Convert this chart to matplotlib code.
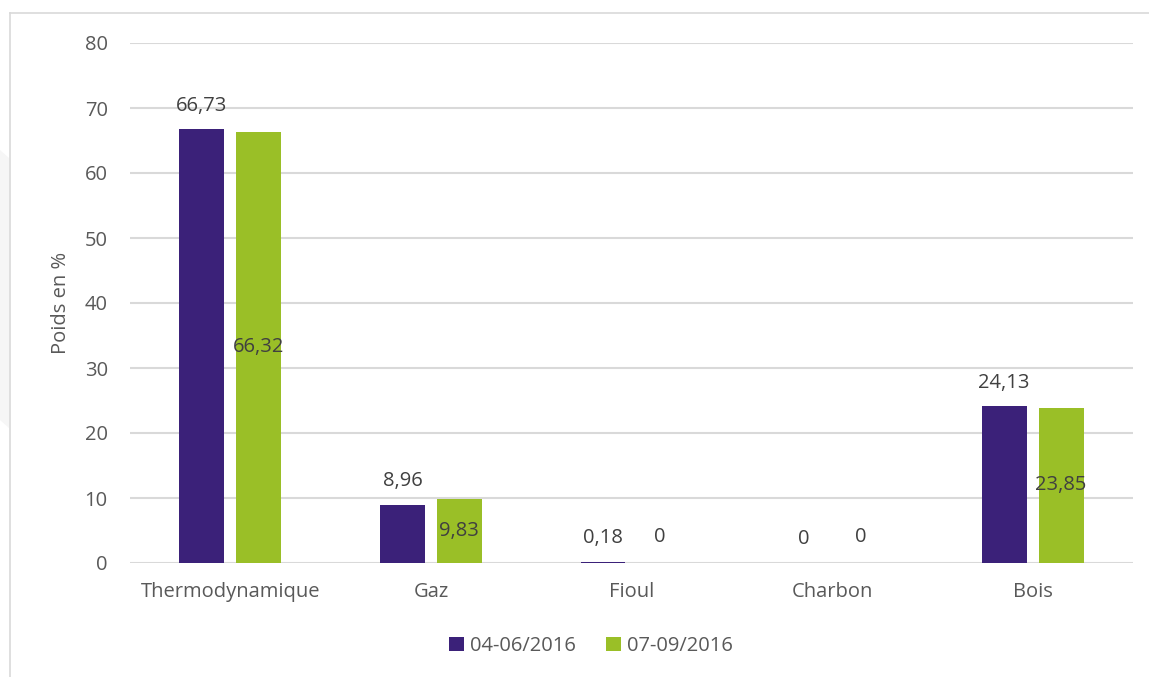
import numpy as np
import matplotlib
matplotlib.use("Agg")
import matplotlib.pyplot as plt
from matplotlib.lines import Line2D
from matplotlib.patches import Polygon

# Data
categories = ["Thermodynamique", "Gaz", "Fioul", "Charbon", "Bois"]
series_names = ["04-06/2016", "07-09/2016"]
values_q2 = [66.73, 8.96, 0.18, 0, 24.13]
values_q3 = [66.32, 9.83, 0, 0, 23.85]

purple = "#3B2179"
green = "#9ABF27"
text_gray = "#595959"
grid_gray = "#D9D9D9"
fs = 14.5

plt.rcParams["font.family"] = ["Open Sans", "DejaVu Sans"]

W, H = 1149, 677
fig = plt.figure(figsize=(W / 100, H / 100), dpi=100)
ax = fig.add_axes([130 / W, 1 - 563 / H, (1133 - 130) / W, (563 - 43) / H])

x = np.arange(len(categories))
bw = 0.224
off = 0.142
b1 = ax.bar(x - off, values_q2, bw, color=purple, label=series_names[0], zorder=3)
b2 = ax.bar(x + off, values_q3, bw, color=green, label=series_names[1], zorder=3)

ax.set_xlim(-0.5, len(categories) - 0.5)
ax.set_ylim(0, 80)
ax.set_yticks(range(0, 81, 10))
ax.set_xticks(x)
ax.set_xticklabels(categories)
ax.tick_params(length=0, labelsize=fs, colors=text_gray)
ax.tick_params(axis="x", pad=14)
ax.tick_params(axis="y", pad=16)
ax.yaxis.grid(True, color=grid_gray, linewidth=1.5, zorder=0)
for s in ax.spines.values():
    s.set_visible(False)
ax.set_ylabel("Poids en %", fontsize=fs, color=text_gray, labelpad=10)


def fmt(v):
    return ("%g" % v).replace(".", ",")


# purple labels above the bars
for xi, v in zip(x, values_q2):
    ax.annotate(fmt(v), (xi - off, v), xytext=(0, 17), textcoords="offset points",
                ha="center", va="center", fontsize=fs, color="#404040")
# green labels centred in the bars (zeros sit above the base)
for xi, v in zip(x, values_q3):
    if v > 0:
        ax.text(xi + off, v / 2, fmt(v), ha="center", va="center",
                fontsize=fs, color="#404040", zorder=4)
    else:
        ax.annotate(fmt(v), (xi + off, 0), xytext=(0, 19), textcoords="offset points",
                    ha="center", va="center", fontsize=fs, color="#404040")

leg = fig.legend(loc="center", bbox_to_anchor=(591 / W, 1 - 646 / H), ncol=2,
                 frameon=False, fontsize=fs, handlelength=0.75, handleheight=0.75,
                 handletextpad=0.3, columnspacing=1.5)
for t in leg.get_texts():
    t.set_color(text_gray)

# outer chart frame and faint shadow at left
fig.add_artist(Line2D([10 / W, 10 / W], [0, 1 - 13 / H], color=grid_gray, linewidth=1.2))
fig.add_artist(Line2D([10 / W, 1], [1 - 13 / H, 1 - 13 / H], color=grid_gray, linewidth=1.2))
fig.add_artist(Polygon([[0, 1 - 150 / H], [9 / W, 1 - 158 / H], [9 / W, 1 - 428 / H], [0, 1 - 420 / H]],
                       closed=True, facecolor="#F6F6F6", edgecolor="none", transform=fig.transFigure))

fig.savefig("out.png", dpi=100)
